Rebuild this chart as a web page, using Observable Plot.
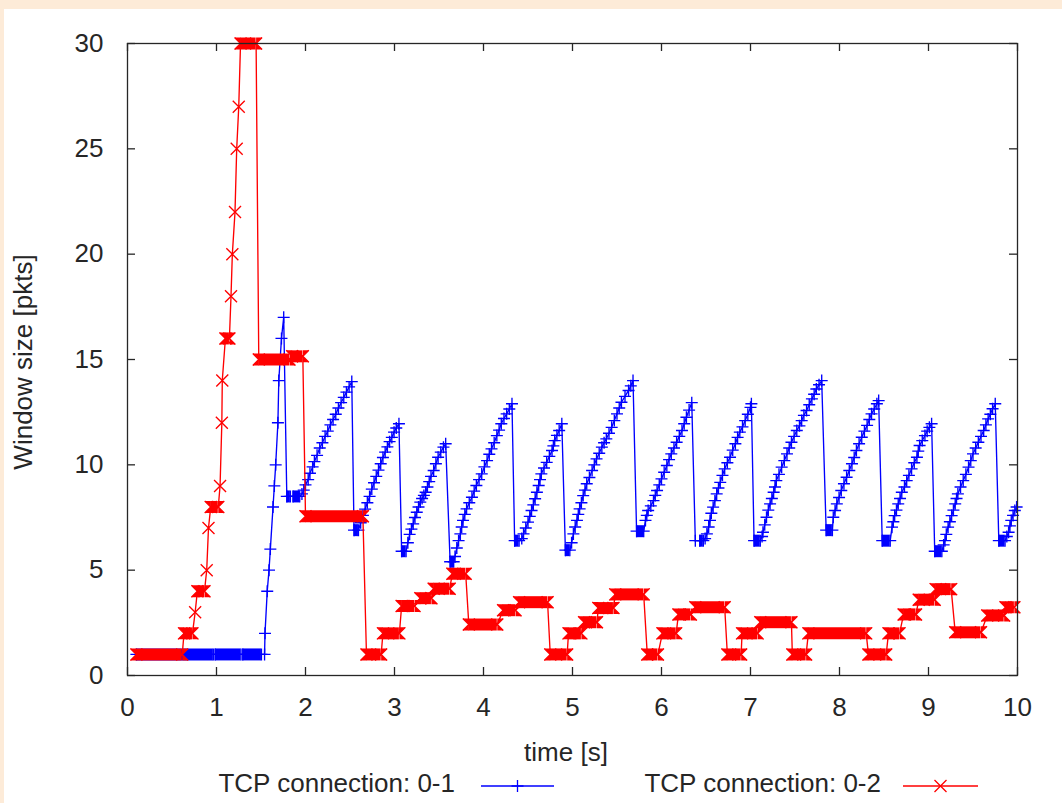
<!DOCTYPE html>
<html>
<head>
<meta charset="utf-8">
<script src="https://cdn.jsdelivr.net/npm/d3@7"></script>
<script src="https://cdn.jsdelivr.net/npm/@observablehq/plot@0.6"></script>
<style>
html, body { margin: 0; padding: 0; background: #fdebd8; width: 1062px; height: 803px; overflow: hidden; }
#page { position: absolute; left: 4px; top: 9px; width: 1058px; height: 794px; background: #ffffff; }
#chart { position: absolute; left: 0; top: 0; }
#overlay { position: absolute; left: 0; top: 0; pointer-events: none; }
</style>
</head>
<body>
<div id="page"><div id="chart"></div></div>
<script>
// ---------- data ----------
const xTicks = [0, 1, 2, 3, 4, 5, 6, 7, 8, 9, 10];
const yTicks = [0, 5, 10, 15, 20, 25, 30];
const xTitle = "time [s]";
const yTitle = "Window size [pkts]";
const seriesNames = ["TCP connection: 0-1", "TCP connection: 0-2"];
const seriesColors = ["#0000ff", "#ff0000"];

// entries: [time, window] or [time, window, timeUntilWhichValueHolds]
const conn01 = [
  [0.10, 1, 0.965], [0.985, 1, 1.275], [1.295, 1, 1.505],
  [1.54, 1], [1.545, 2], [1.57, 4], [1.59, 5], [1.605, 6], [1.635, 8], [1.65, 9], [1.665, 10],
  [1.69, 12], [1.70, 14], [1.73, 16], [1.755, 17],
  [1.79, 8.5, 1.83], [1.86, 8.5, 1.935],
  [1.96, 8.62], [1.98, 8.8], [2.00, 9.05], [2.03, 9.3], [2.05, 9.6], [2.08, 9.9], [2.10, 10.15],
  [2.13, 10.45], [2.16, 10.8], [2.19, 11.05], [2.22, 11.35], [2.25, 11.6], [2.28, 11.9], [2.31, 12.15],
  [2.34, 12.4], [2.37, 12.7], [2.40, 12.95], [2.43, 13.2], [2.46, 13.45], [2.49, 13.7], [2.52, 13.95],
  [2.545, 6.9, 2.595],
  [2.62, 7.25], [2.645, 7.6], [2.67, 7.9], [2.695, 8.2], [2.72, 8.5], [2.745, 8.85], [2.77, 9.15],
  [2.795, 9.45], [2.82, 9.75], [2.845, 10.05], [2.87, 10.35], [2.895, 10.6], [2.92, 10.85], [2.945, 11.1],
  [2.97, 11.3], [2.995, 11.55], [3.02, 11.75], [3.05, 11.95],
  [3.08, 5.9, 3.13],
  [3.15, 6.3], [3.17, 6.7], [3.19, 6.95], [3.21, 7.2], [3.23, 7.5], [3.25, 7.75], [3.27, 8.0], [3.29, 8.23],
  [3.31, 8.4], [3.33, 8.55], [3.35, 8.7], [3.37, 8.95], [3.39, 9.2], [3.41, 9.45], [3.44, 9.73], [3.465, 10.05],
  [3.49, 10.36], [3.52, 10.6], [3.55, 10.84], [3.575, 11.0],
  [3.625, 5.4, 3.665],
  [3.68, 5.65], [3.70, 6.05], [3.72, 6.4], [3.74, 6.72], [3.755, 7.05], [3.77, 7.36], [3.79, 7.65], [3.81, 7.91],
  [3.84, 8.2], [3.87, 8.46], [3.895, 8.75], [3.92, 9.02], [3.95, 9.3], [3.98, 9.57], [4.01, 9.9], [4.04, 10.2],
  [4.065, 10.5], [4.09, 10.76], [4.12, 11.05], [4.15, 11.39], [4.175, 11.65], [4.20, 11.95], [4.23, 12.2],
  [4.26, 12.42], [4.29, 12.65], [4.32, 12.9],
  [4.35, 6.4, 4.40],
  [4.43, 6.5], [4.45, 6.72], [4.475, 7.0], [4.50, 7.28], [4.52, 7.55], [4.54, 7.83], [4.56, 8.1], [4.58, 8.39],
  [4.60, 8.7], [4.62, 9.02], [4.635, 9.3], [4.65, 9.57], [4.68, 9.85], [4.71, 10.12], [4.74, 10.4], [4.77, 10.68],
  [4.785, 10.9], [4.80, 11.15], [4.825, 11.4], [4.85, 11.63], [4.88, 11.95],
  [4.92, 5.95, 4.97],
  [4.99, 6.3], [5.01, 6.72], [5.03, 7.05], [5.05, 7.36], [5.065, 7.65], [5.08, 7.91], [5.10, 8.2], [5.12, 8.54],
  [5.14, 8.8], [5.16, 9.1], [5.19, 9.4], [5.22, 9.73], [5.245, 10.0], [5.27, 10.28], [5.30, 10.55], [5.33, 10.84],
  [5.355, 11.05], [5.38, 11.23], [5.41, 11.5], [5.44, 11.78], [5.47, 12.1], [5.50, 12.42], [5.525, 12.7],
  [5.55, 12.97], [5.59, 13.25], [5.63, 13.53], [5.655, 13.75], [5.68, 14.0],
  [5.72, 6.85, 5.80],
  [5.82, 7.36], [5.835, 7.6], [5.85, 7.83], [5.88, 8.05], [5.91, 8.3], [5.93, 8.55], [5.95, 8.78], [5.975, 9.05],
  [6.00, 9.33], [6.03, 9.65], [6.06, 9.97], [6.085, 10.25], [6.11, 10.52], [6.14, 10.8], [6.17, 11.07],
  [6.20, 11.35], [6.23, 11.63], [6.255, 11.95], [6.28, 12.26], [6.31, 12.6], [6.34, 12.95],
  [6.38, 6.4], [6.43, 6.4, 6.47],
  [6.49, 6.5], [6.51, 6.72], [6.53, 7.05], [6.545, 7.36], [6.56, 7.7], [6.58, 7.99], [6.60, 8.3], [6.62, 8.62],
  [6.64, 8.9], [6.66, 9.17], [6.685, 9.5], [6.71, 9.81], [6.74, 10.1], [6.77, 10.36], [6.80, 10.7], [6.83, 11.0],
  [6.855, 11.3], [6.88, 11.55], [6.91, 11.8], [6.94, 12.1], [6.97, 12.4], [7.00, 12.73], [7.01, 12.9],
  [7.04, 6.4, 7.11],
  [7.13, 6.6], [7.14, 6.8], [7.16, 7.15], [7.18, 7.51], [7.20, 7.85], [7.22, 8.15], [7.24, 8.4], [7.26, 8.7],
  [7.275, 8.95], [7.29, 9.25], [7.32, 9.55], [7.35, 9.89], [7.38, 10.2], [7.41, 10.52], [7.435, 10.8],
  [7.46, 11.07], [7.49, 11.35], [7.52, 11.63], [7.55, 11.85], [7.575, 12.1], [7.60, 12.35], [7.63, 12.58],
  [7.66, 12.85], [7.69, 13.13], [7.715, 13.35], [7.74, 13.6], [7.77, 13.8], [7.80, 14.0],
  [7.85, 6.9, 7.92],
  [7.93, 7.51], [7.95, 7.83], [7.97, 8.15], [7.995, 8.45], [8.02, 8.78], [8.05, 9.1], [8.08, 9.41], [8.11, 9.73],
  [8.14, 10.05], [8.165, 10.35], [8.19, 10.68], [8.22, 11.0], [8.25, 11.31], [8.28, 11.6], [8.31, 11.87],
  [8.335, 12.15], [8.36, 12.42], [8.39, 12.65], [8.42, 12.9], [8.44, 13.05],
  [8.48, 6.4, 8.57],
  [8.59, 7.04], [8.605, 7.3], [8.62, 7.59], [8.64, 7.85], [8.66, 8.15], [8.68, 8.4], [8.70, 8.7], [8.73, 8.95],
  [8.755, 9.25], [8.78, 9.5], [8.81, 9.81], [8.84, 10.1], [8.87, 10.36], [8.885, 10.65], [8.90, 10.92],
  [8.93, 11.15], [8.96, 11.39], [8.985, 11.6], [9.01, 11.78], [9.035, 11.95],
  [9.07, 5.9, 9.15],
  [9.17, 6.2], [9.185, 6.4], [9.20, 6.7], [9.22, 7.04], [9.24, 7.3], [9.26, 7.59], [9.28, 7.85], [9.30, 8.15],
  [9.315, 8.4], [9.33, 8.62], [9.36, 8.95], [9.39, 9.25], [9.42, 9.55], [9.45, 9.89], [9.475, 10.2], [9.50, 10.52],
  [9.53, 10.8], [9.56, 11.07], [9.59, 11.35], [9.62, 11.63], [9.645, 11.9], [9.67, 12.18], [9.695, 12.4],
  [9.72, 12.66], [9.75, 12.9],
  [9.79, 6.4, 9.86],
  [9.88, 6.6], [9.90, 6.8], [9.915, 7.1], [9.93, 7.36], [9.95, 7.6], [9.97, 7.83], [9.99, 8.0]
];

const conn02 = [
  [0.10, 1, 0.615], [0.635, 2, 0.73], [0.76, 3], [0.785, 4, 0.865], [0.89, 5], [0.91, 7],
  [0.935, 8, 1.02], [1.04, 9], [1.06, 12], [1.065, 14], [1.10, 16, 1.145],
  [1.163, 18], [1.178, 20], [1.208, 22], [1.227, 25], [1.25, 27], [1.27, 30, 1.445],
  [1.475, 15, 1.82], [1.85, 15.15, 1.97], [2.00, 7.56, 2.645],
  [2.685, 1, 2.85], [2.87, 2, 3.055], [3.08, 3.3, 3.225], [3.29, 3.67, 3.415], [3.44, 4.12, 3.62],
  [3.65, 4.83, 3.80], [3.835, 2.42, 4.155], [4.22, 3.1, 4.36], [4.40, 3.48, 4.72],
  [4.75, 1, 4.94], [4.955, 2, 5.10], [5.13, 2.53, 5.275], [5.29, 3.2, 5.46], [5.48, 3.85, 5.80],
  [5.84, 1, 5.96], [6.01, 2, 6.165], [6.19, 2.9, 6.33], [6.38, 3.24, 6.71],
  [6.74, 1, 6.895], [6.905, 2, 7.08], [7.11, 2.53, 7.46],
  [7.47, 1, 7.625], [7.65, 2, 8.30],
  [8.325, 1, 8.525], [8.55, 2, 8.675], [8.72, 2.9, 8.86], [8.89, 3.6, 9.07], [9.08, 4.1, 9.255],
  [9.30, 2.05, 9.59], [9.66, 2.85, 9.85], [9.865, 3.24, 9.965]
];

// ---------- helpers ----------
const pts = runs => runs.flatMap(r => r.length > 2 ? [[r[0], r[1]], [r[2], r[1]]] : [[r[0], r[1]]]);
const holds = runs => runs.filter(r => r.length > 2);
const X = d => d[0], Y = d => d[1], XE = d => d[2];

const HS = 6; // marker half size (px)
const plusSym = { draw(c) { c.moveTo(-HS, 0); c.lineTo(HS, 0); c.moveTo(0, -HS); c.lineTo(0, HS); } };
const timesSym = { draw(c) { c.moveTo(-HS, -HS); c.lineTo(HS, HS); c.moveTo(-HS, HS); c.lineTo(HS, -HS); } };
const notchL = { draw(c) { c.moveTo(0, 0); c.lineTo(0, -HS); c.lineTo(-HS, -HS); c.closePath(); c.moveTo(0, 0); c.lineTo(0, HS); c.lineTo(-HS, HS); c.closePath(); } };
const notchR = { draw(c) { c.moveTo(0, 0); c.lineTo(0, -HS); c.lineTo(HS, -HS); c.closePath(); c.moveTo(0, 0); c.lineTo(0, HS); c.lineTo(HS, HS); c.closePath(); } };

const W = 1058, H = 700;
const mT = 34, mR = 45, mB = 34, mL = 123;
const innerW = W - mL - mR, innerH = H - mT - mB;
const TICK = 8;
const ink = "#262626";
const font = '"Liberation Sans", Arial, Helvetica, sans-serif';

const [blue, red] = seriesColors;
const LW = 1.35;

const chart = Plot.plot({
  width: W, height: H,
  marginTop: mT, marginRight: mR, marginBottom: mB, marginLeft: mL,
  x: { domain: [0, 10] },
  y: { domain: [0, 30] },
  style: { fontFamily: font, fontSize: "26px", color: ink, background: "transparent", overflow: "visible" },
  marks: [
    // series 0-1
    Plot.line(pts(conn01), { x: X, y: Y, stroke: blue, strokeWidth: LW }),
    Plot.ruleY(holds(conn01), { y: Y, x1: X, x2: XE, stroke: blue, strokeWidth: 2 * HS }),
    Plot.dot(pts(conn01), { x: X, y: Y, symbol: plusSym, stroke: blue, fill: "none", strokeWidth: LW }),
    // series 0-2
    Plot.line(pts(conn02), { x: X, y: Y, stroke: red, strokeWidth: LW }),
    Plot.ruleY(holds(conn02), { y: Y, x1: X, x2: XE, stroke: red, strokeWidth: 2 * HS }),
    Plot.dot(holds(conn02), { x: X, y: Y, symbol: notchL, fill: red, stroke: "none" }),
    Plot.dot(holds(conn02), { x: XE, y: Y, symbol: notchR, fill: red, stroke: "none" }),
    Plot.dot(pts(conn02), { x: X, y: Y, symbol: timesSym, stroke: red, fill: "none", strokeWidth: LW }),
    // frame + inward mirror ticks
    Plot.frame({ stroke: ink, strokeWidth: 1.3 }),
    Plot.tickX(xTicks, { x: d => d, insetTop: innerH - TICK, stroke: ink, strokeWidth: 1.3 }),
    Plot.tickX(xTicks, { x: d => d, insetBottom: innerH - TICK, stroke: ink, strokeWidth: 1.3 }),
    Plot.tickY(yTicks, { y: d => d, insetRight: innerW - TICK, stroke: ink, strokeWidth: 1.3 }),
    Plot.tickY(yTicks, { y: d => d, insetLeft: innerW - TICK, stroke: ink, strokeWidth: 1.3 }),
    Plot.axisX({ ticks: xTicks, tickSize: 0, tickPadding: 22, label: null, tickFormat: d => String(d) }),
    Plot.axisY({ ticks: yTicks, tickSize: 0, tickPadding: 24, label: null, tickFormat: d => String(d) })
  ]
});
document.getElementById("chart").appendChild(chart);

// ---------- titles & legend (page coordinates) ----------
const ov = d3.select("body").append("svg").attr("id", "overlay")
  .attr("width", 1062).attr("height", 803)
  .style("font-family", font).style("font-size", "26px").attr("fill", ink);

ov.append("text").attr("x", 566).attr("y", 761).attr("text-anchor", "middle").text(xTitle);
ov.append("text").attr("transform", "translate(32,362) rotate(-90)").attr("text-anchor", "middle").text(yTitle);

const legend = [
  { name: seriesNames[0], color: blue, sym: plusSym, textEnd: 455, x1: 481, x2: 554 },
  { name: seriesNames[1], color: red, sym: timesSym, textEnd: 881, x1: 903, x2: 978 }
];
const ly = 786;
for (const l of legend) {
  ov.append("text").attr("x", l.textEnd).attr("y", 792).attr("text-anchor", "end").text(l.name);
  ov.append("line").attr("x1", l.x1).attr("x2", l.x2).attr("y1", ly).attr("y2", ly)
    .attr("stroke", l.color).attr("stroke-width", 1.4);
  const p = d3.path(); l.sym.draw(p);
  ov.append("path").attr("d", p.toString())
    .attr("transform", `translate(${(l.x1 + l.x2) / 2},${ly})`)
    .attr("stroke", l.color).attr("fill", "none").attr("stroke-width", 1.3);
}
</script>
</body>
</html>
